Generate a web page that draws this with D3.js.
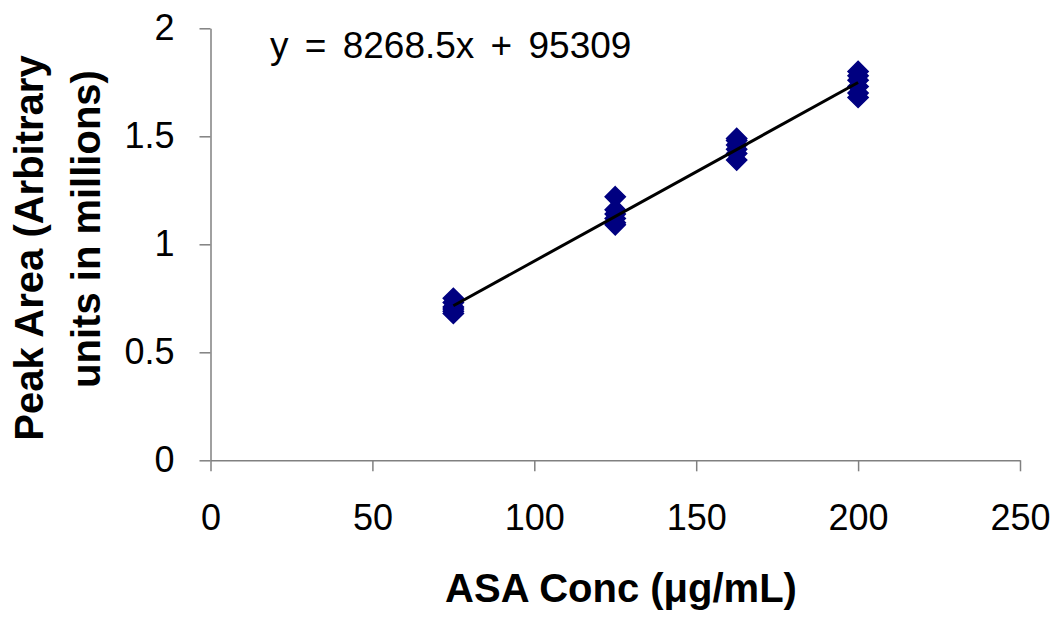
<!DOCTYPE html>
<html lang="en">
<head>
    <meta charset="UTF-8">
    <title>ASA calibration</title>
    <script src="https://d3js.org/d3.v7.min.js"></script>
    <style>
        body { margin: 0; background: #fff; }
        text { font-family: "Liberation Sans", Arial, sans-serif; }
    </style>
</head>
<body>

<script>
    // ASA concentration (ug/mL) and peak area (millions), six injections each
    var conc = [75, 125, 162.5, 200];
    var area75 = [0.68, 0.69, 0.70, 0.71, 0.73, 0.75];
    var area125 = [1.09, 1.10, 1.12, 1.14, 1.16, 1.22];
    var area162 = [1.39, 1.42, 1.44, 1.46, 1.48, 1.49];
    var area200 = [1.68, 1.70, 1.73, 1.76, 1.78, 1.80];
    var xTicks = [0, 50, 100, 150, 200, 250];
    var yTicks = [0, 0.5, 1, 1.5, 2];
    // trendline y = 8268.5x + 95309 (raw units)
    var slope = 8268.5;
    var intercept = 95309;

    var width = 1057;
    var height = 619;
    var svg = d3.select("body").append("svg")
        .attr("width", width)
        .attr("height", height);

    var x = d3.scaleLinear().domain([0, 250]).range([210.5, 1020]);
    var y = d3.scaleLinear().domain([0, 2]).range([460.3, 28.3]);

    var points = [];
    [area75, area125, area162, area200].forEach(function(arr, i) {
        arr.forEach(function(v) { points.push({x: conc[i], y: v}); });
    });

    // axes
    var xAxis = svg.append("g")
        .attr("transform", "translate(0," + y(0) + ")")
        .call(d3.axisBottom(x).tickValues(xTicks).tickSize(11).tickSizeOuter(0).tickPadding(33));
    var yAxis = svg.append("g")
        .attr("transform", "translate(" + x(0) + ",0)")
        .call(d3.axisLeft(y).tickValues(yTicks).tickSize(11).tickSizeOuter(0).tickPadding(25)
            .tickFormat(function(d) { return d3.format("")(d); }));
    [xAxis, yAxis].forEach(function(g) {
        g.selectAll("path, line").attr("stroke", "#808080").attr("stroke-width", 1.5);
        g.selectAll("text").attr("font-size", 36).attr("fill", "#000")
            .attr("font-family", "'Liberation Sans', Arial, sans-serif");
    });

    // markers
    svg.append("g").selectAll("path")
        .data(points)
        .enter().append("path")
        .attr("d", d3.symbol().type(d3.symbolDiamond2).size(260))
        .attr("transform", function(d) { return "translate(" + x(d.x) + "," + y(d.y) + ")"; })
        .attr("fill", "#000080")
        .attr("stroke", "#000080")
        .attr("stroke-width", 1.5);

    // trendline
    var fit = function(c) { return (slope * c + intercept) / 1e6; };
    svg.append("line")
        .attr("x1", x(conc[0])).attr("y1", y(fit(conc[0])))
        .attr("x2", x(conc[conc.length - 1])).attr("y2", y(fit(conc[conc.length - 1])))
        .attr("stroke", "#000")
        .attr("stroke-width", 3);

    // equation
    svg.append("text")
        .attr("x", 270).attr("y", 58)
        .attr("font-size", 37)
        .attr("word-spacing", 6)
        .attr("xml:space", "preserve")
        .text("y = " + slope + "x + " + intercept);

    // axis titles
    svg.append("text")
        .attr("x", 621).attr("y", 602)
        .attr("text-anchor", "middle")
        .attr("font-size", 40)
        .attr("font-weight", "bold")
        .text("ASA Conc (\u03bcg/mL)");

    svg.append("text")
        .attr("transform", "translate(43,248) rotate(-90)")
        .attr("text-anchor", "middle")
        .attr("font-size", 40)
        .attr("font-weight", "bold")
        .text("Peak Area (Arbitrary");
    svg.append("text")
        .attr("transform", "translate(100,229) rotate(-90)")
        .attr("text-anchor", "middle")
        .attr("font-size", 40)
        .attr("font-weight", "bold")
        .text("units in millions)");
</script>
</body>
</html>
